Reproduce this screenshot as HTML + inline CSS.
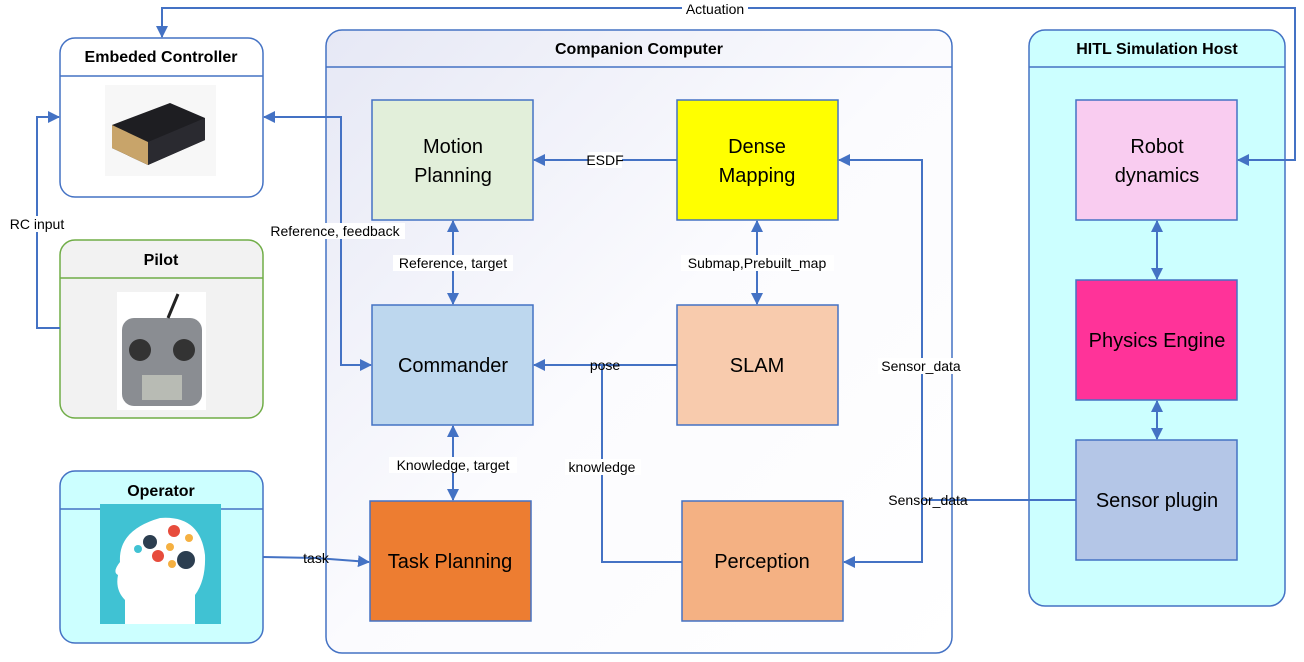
<!DOCTYPE html>
<html><head><meta charset="utf-8"><style>
body{margin:0;background:#fff}
svg{display:block;font-family:"Liberation Sans","DejaVu Sans",sans-serif}
.t{font-size:14px;text-anchor:middle}
.b{font-size:20px;text-anchor:middle}
.h{font-size:16px;font-weight:bold;text-anchor:middle}
.c{stroke:#4472c4;stroke-width:2;fill:none}
.bx{stroke:#4472c4;stroke-width:1.5}
</style></head><body>
<svg width="1304" height="662" viewBox="0 0 1304 662" xmlns="http://www.w3.org/2000/svg">
<defs>
<linearGradient id="g" x1="0" y1="0" x2="1" y2="1"><stop offset="0" stop-color="#e6e8f5"/><stop offset="0.5" stop-color="#fbfbfe"/><stop offset="1" stop-color="#fff"/></linearGradient>
<marker id="a" markerWidth="12" markerHeight="12" refX="11" refY="6" orient="auto" markerUnits="userSpaceOnUse"><path d="M0,0 L12,6 L0,12 z" fill="#4472c4"/></marker>
<marker id="s" markerWidth="12" markerHeight="12" refX="1" refY="6" orient="auto" markerUnits="userSpaceOnUse"><path d="M12,0 L0,6 L12,12 z" fill="#4472c4"/></marker>
</defs>
<rect x="326" y="30" width="626" height="623" rx="16" fill="url(#g)" stroke="#4472c4" stroke-width="1.5"/>
<line x1="326" y1="67" x2="952" y2="67" stroke="#4472c4" stroke-width="1.5"/>
<text x="639" y="54" class="h">Companion Computer</text>
<rect x="1029" y="30" width="256" height="576" rx="16" fill="#ccffff" stroke="#4472c4" stroke-width="1.5"/>
<line x1="1029" y1="67" x2="1285" y2="67" stroke="#4472c4" stroke-width="1.5"/>
<text x="1157" y="54" class="h">HITL Simulation Host</text>
<rect x="60" y="38" width="203" height="159" rx="15" fill="#fff" stroke="#4472c4" stroke-width="1.5"/>
<line x1="60" y1="76" x2="263" y2="76" stroke="#4472c4" stroke-width="1.5"/>
<text x="161" y="62" class="h">Embeded Controller</text>
<rect x="60" y="240" width="203" height="178" rx="15" fill="#f2f2f2" stroke="#70ad47" stroke-width="1.5"/>
<line x1="60" y1="278" x2="263" y2="278" stroke="#70ad47" stroke-width="1.5"/>
<text x="161" y="265" class="h">Pilot</text>
<rect x="60" y="471" width="203" height="172" rx="15" fill="#ccffff" stroke="#4472c4" stroke-width="1.5"/>
<line x1="60" y1="509" x2="263" y2="509" stroke="#4472c4" stroke-width="1.5"/>
<text x="161" y="496" class="h">Operator</text>
<rect x="105" y="85" width="111" height="91" fill="#f7f7f7"/>
<polygon points="112,125 170,103 205,118 205,140 148,165 112,148" fill="#1e1e22"/>
<polygon points="112,125 148,142 148,165 112,148" fill="#c8a46a"/>
<polygon points="148,142 205,118 205,140 148,165" fill="#2a2a30"/>
<rect x="117" y="292" width="89" height="118" fill="#fff"/>
<rect x="122" y="318" width="80" height="88" rx="12" fill="#8a8d92"/>
<circle cx="140" cy="350" r="11" fill="#333"/><circle cx="184" cy="350" r="11" fill="#333"/>
<rect x="142" y="375" width="40" height="25" fill="#b8bbb4"/>
<line x1="168" y1="318" x2="178" y2="294" stroke="#222" stroke-width="3"/>
<rect x="100" y="504" width="121" height="120" fill="#40c2d3"/>
<path d="M125,624 L125,600 Q115,590 118,575 Q112,572 120,562 Q118,530 160,518 Q200,515 205,555 Q206,580 195,595 L195,624 z" fill="#fff"/>
<circle cx="150" cy="542" r="7" fill="#2c3e50"/><circle cx="174" cy="531" r="6" fill="#e74c3c"/><circle cx="186" cy="560" r="9" fill="#2c3e50"/><circle cx="158" cy="556" r="6" fill="#e74c3c"/><circle cx="170" cy="547" r="4" fill="#f5b041"/><circle cx="138" cy="549" r="4" fill="#40c2d3"/><circle cx="189" cy="538" r="4" fill="#f5b041"/><circle cx="172" cy="564" r="4" fill="#f5b041"/>
<rect x="372" y="100" width="161" height="120" fill="#e2efda" class="bx"/>
<text x="453" y="153" class="b">Motion</text><text x="453" y="182" class="b">Planning</text>
<rect x="677" y="100" width="161" height="120" fill="#ffff00" class="bx"/>
<text x="757" y="153" class="b">Dense</text><text x="757" y="182" class="b">Mapping</text>
<rect x="372" y="305" width="161" height="120" fill="#bdd7ee" class="bx"/>
<text x="453" y="372" class="b">Commander</text>
<rect x="677" y="305" width="161" height="120" fill="#f8cbad" class="bx"/>
<text x="757" y="372" class="b">SLAM</text>
<rect x="370" y="501" width="161" height="120" fill="#ed7d31" class="bx"/>
<text x="450" y="568" class="b">Task Planning</text>
<rect x="682" y="501" width="161" height="120" fill="#f4b183" class="bx"/>
<text x="762" y="568" class="b">Perception</text>
<rect x="1076" y="100" width="161" height="120" fill="#f9ccf0" class="bx"/>
<text x="1157" y="153" class="b">Robot</text><text x="1157" y="182" class="b">dynamics</text>
<rect x="1076" y="280" width="161" height="120" fill="#ff3399" class="bx"/>
<text x="1157" y="347" class="b">Physics Engine</text>
<rect x="1076" y="440" width="161" height="120" fill="#b4c6e7" class="bx"/>
<text x="1157" y="507" class="b">Sensor plugin</text>
<polyline class="c" points="1238,160 1295,160 1295,8 162,8 162,37" marker-start="url(#s)" marker-end="url(#a)"/>
<polyline class="c" points="264,117 341,117 341,365 371,365" marker-start="url(#s)" marker-end="url(#a)"/>
<polyline class="c" points="60,328 37,328 37,117 59,117" marker-end="url(#a)"/>
<line class="c" x1="677" y1="160" x2="534" y2="160" marker-end="url(#a)"/>
<line class="c" x1="453" y1="221" x2="453" y2="304" marker-start="url(#s)" marker-end="url(#a)"/>
<line class="c" x1="757" y1="221" x2="757" y2="304" marker-start="url(#s)" marker-end="url(#a)"/>
<line class="c" x1="677" y1="365" x2="534" y2="365" marker-end="url(#a)"/>
<polyline class="c" points="682,562 602,562 602,365"/>
<line class="c" x1="453" y1="426" x2="453" y2="500" marker-start="url(#s)" marker-end="url(#a)"/>
<polyline class="c" points="263,557 316,558 369,562" marker-end="url(#a)"/>
<polyline class="c" points="1076,500 922,500 922,160 839,160" marker-end="url(#a)"/>
<polyline class="c" points="922,500 922,562 844,562" marker-end="url(#a)"/>
<line class="c" x1="1157" y1="221" x2="1157" y2="279" marker-start="url(#s)" marker-end="url(#a)"/>
<line class="c" x1="1157" y1="401" x2="1157" y2="439" marker-start="url(#s)" marker-end="url(#a)"/>
<g class="t">
<rect x="682" y="1" width="66" height="16" fill="#fff"/><text x="715" y="14">Actuation</text>
<rect x="265" y="223" width="140" height="16" fill="#fff"/><text x="335" y="236">Reference, feedback</text>
<rect x="7" y="216" width="60" height="16" fill="#fff"/><text x="37" y="229">RC input</text>
<rect x="588" y="152" width="34" height="16" fill="#fff"/><text x="605" y="165">ESDF</text>
<rect x="393" y="255" width="120" height="16" fill="#fff"/><text x="453" y="268">Reference, target</text>
<rect x="681" y="255" width="153" height="16" fill="#fff"/><text x="757" y="268">Submap,Prebuilt_map</text>
<text x="605" y="370">pose</text>
<rect x="565" y="459" width="76" height="16" fill="#fff"/><text x="602" y="472">knowledge</text>
<rect x="389" y="457" width="128" height="16" fill="#fff"/><text x="453" y="470">Knowledge, target</text>
<text x="316" y="563">task</text>
<rect x="878" y="358" width="86" height="16" fill="#fff"/><text x="921" y="371">Sensor_data</text>
<text x="928" y="505">Sensor_data</text>
</g>
</svg>
</body></html>
